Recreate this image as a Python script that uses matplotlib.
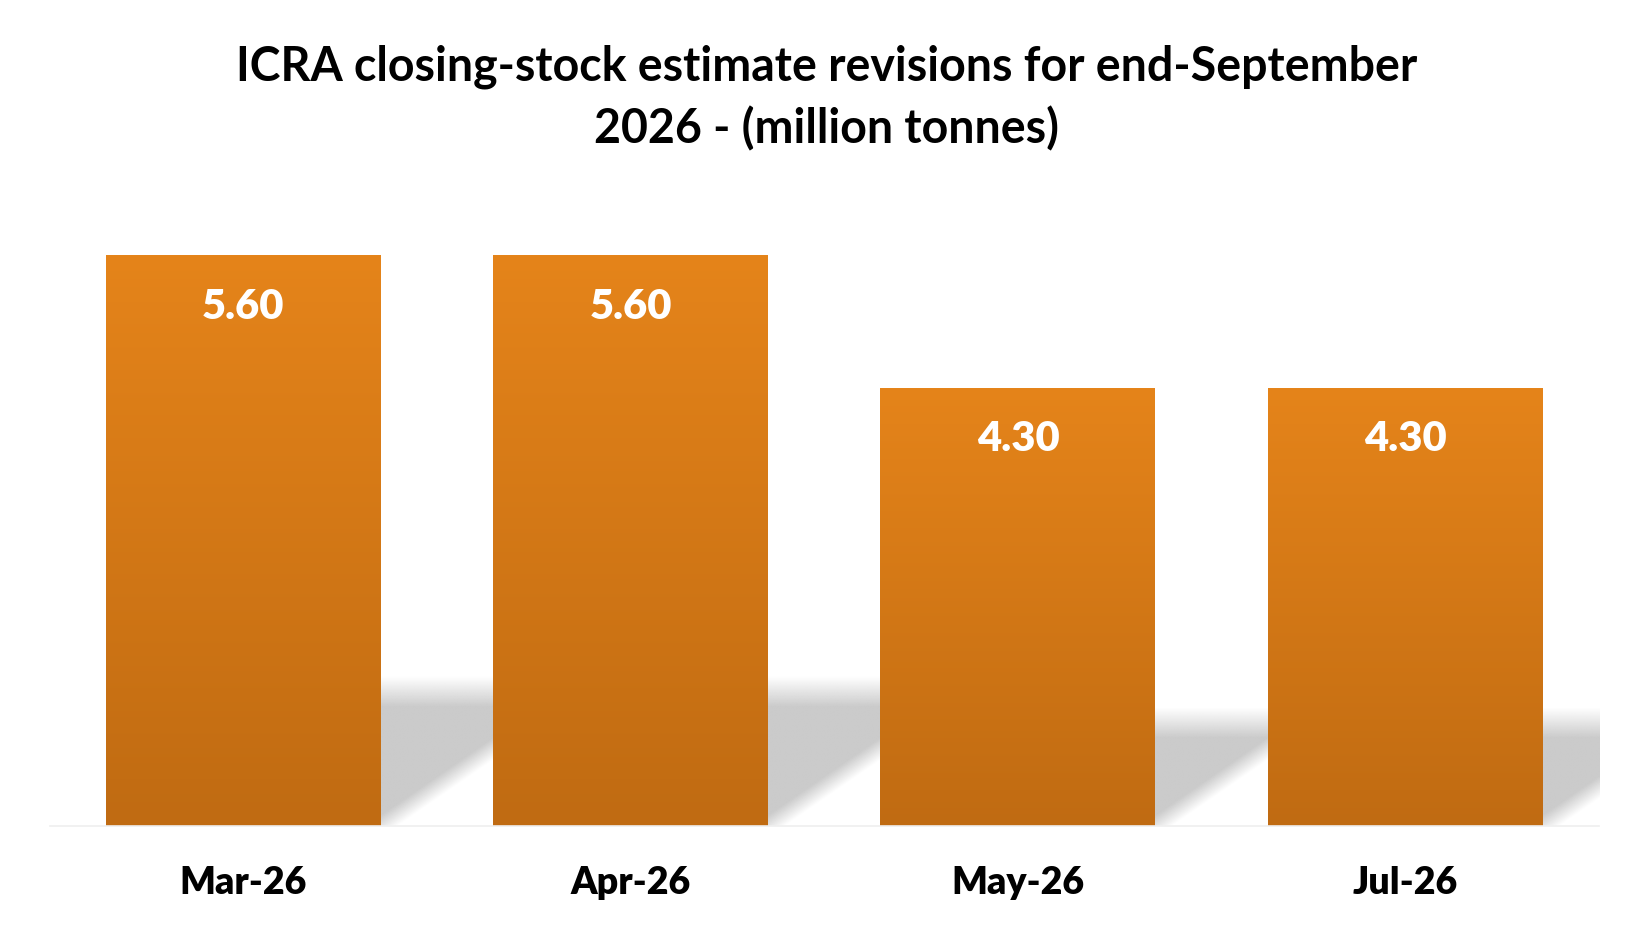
"""
ICRA closing-stock estimate revisions - bar chart with gradient bars and floor shadow
"""
import matplotlib.pyplot as plt
import numpy as np
from matplotlib.colors import LinearSegmentedColormap, to_rgb

plt.rcParams['font.family'] = ['Lato', 'DejaVu Sans']

# data
months = ['Mar-26', 'Apr-26', 'May-26', 'Jul-26']
stock_mt = [5.60, 5.60, 4.30, 4.30]
title_lines = ['ICRA closing-stock estimate revisions for end-September',
               '2026 - (million tonnes)']

# styling
top_col = '#E5841A'
bot_col = '#C06B12'
shadow_col = '#CBCBCB'
bar_w = 0.71
shadow_k = 0.235      # shadow height relative to bar
shadow_shear = 1.45   # horizontal px per vertical px of shadow

fig = plt.figure(figsize=(16.5, 9.33), dpi=100)
ax = fig.add_axes([0.0302, 0.1147, 0.9388, 0.6549])
x = np.arange(len(months))
ax.set_xlim(-0.5, len(months) - 0.5)
ax.set_ylim(0, 6.0)

# pixel scale of data units, used for shadow shear
fig.canvas.draw()
bb = ax.get_window_extent()
px_x = bb.width / (len(months))
px_y = bb.height / 6.0

# shadow raster
nx, ny = 1600, 400
gx = np.linspace(-0.5, len(months) - 0.5, nx)
gy = np.linspace(0, 6.0 * 0.3, ny)
GX, GY = np.meshgrid(gx, gy)
alpha = np.zeros_like(GX)
soft_top = 30 / px_y
soft_diag = 32 / px_x
for xi, h in zip(x, stock_mt):
    top = h * shadow_k
    shift = GY * px_y * shadow_shear / px_x
    right = xi + bar_w / 2 + shift
    a_top = np.clip((top - GY) / soft_top + 0.5, 0, 1)
    a_diag = np.clip((right - GX) / soft_diag + 0.5, 0, 1)
    a_left = (GX >= xi - bar_w / 2 + shift).astype(float)
    alpha = np.maximum(alpha, a_top * a_diag * a_left)
rgba = np.zeros((ny, nx, 4))
rgba[..., :3] = to_rgb(shadow_col)
rgba[..., 3] = alpha
ax.imshow(rgba, extent=(gx[0], gx[-1], gy[0], gy[-1]), origin='lower',
          aspect='auto', zorder=1, interpolation='bilinear')

# gradient bars
cmap = LinearSegmentedColormap.from_list('bar', [bot_col, top_col])
grad = np.linspace(0, 1, 256).reshape(-1, 1)
bars = ax.bar(x, stock_mt, width=bar_w, color='none', zorder=2)
for b in bars:
    x0, w, h = b.get_x(), b.get_width(), b.get_height()
    ax.imshow(grad, extent=(x0, x0 + w, 0, h), origin='lower', cmap=cmap,
              aspect='auto', zorder=2)

# value labels
for xi, v in zip(x, stock_mt):
    ax.annotate(f'{v:.2f}', (xi, v), xytext=(0, -51), textcoords='offset pixels',
                ha='center', va='center', color='white', fontsize=30,
                fontweight='heavy', zorder=3)

ax.set_xlim(-0.5, len(months) - 0.5)
ax.set_ylim(0, 6.0)
ax.set_xticks(x)
ax.set_xticklabels(months, fontsize=27, fontweight='heavy')
ax.tick_params(axis='x', length=0, pad=29)
ax.set_yticks([])
for s in ['top', 'left', 'right']:
    ax.spines[s].set_visible(False)
ax.spines['bottom'].set_color('#EFEFEF')
ax.spines['bottom'].set_linewidth(1.2)

fig.text(0.501, 0.928, title_lines[0], ha='center', va='center',
         fontsize=33.5, fontweight='bold')
fig.text(0.501, 0.862, title_lines[1], ha='center', va='center',
         fontsize=33.5, fontweight='bold')

fig.savefig('out.png', dpi=100, facecolor='white')
